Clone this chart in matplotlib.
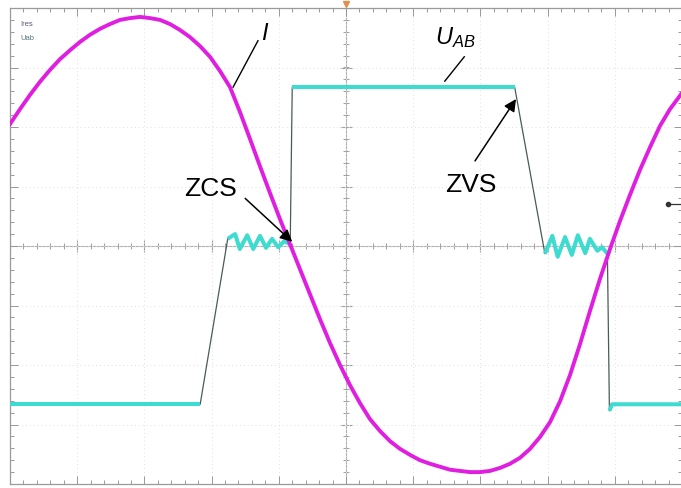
import matplotlib
matplotlib.use("Agg")
import matplotlib.pyplot as plt
import numpy as np

plt.rcParams['font.family'] = ['Liberation Sans', 'DejaVu Sans']
plt.rcParams['mathtext.fontset'] = 'custom'
plt.rcParams['mathtext.it'] = 'Liberation Sans:italic'
plt.rcParams['mathtext.rm'] = 'Liberation Sans'

# Current I (divisions: time 0..10, amplitude -4..4)
i_t = [0.000, 0.149, 0.298, 0.446, 0.595, 0.744, 0.893, 1.042, 1.190, 1.339,
       1.488, 1.637, 1.786, 1.935, 2.083, 2.232, 2.381, 2.530, 2.679, 2.827,
       2.976, 3.125, 3.274, 3.423, 3.571, 3.720, 3.869, 4.018, 4.167, 4.315,
       4.464, 4.613, 4.762, 4.911, 5.060, 5.208, 5.357, 5.506, 5.655, 5.804,
       5.952, 6.101, 6.250, 6.399, 6.548, 6.696, 6.845, 6.994, 7.143, 7.292,
       7.440, 7.589, 7.738, 7.887, 8.036, 8.185, 8.333, 8.482, 8.631, 8.780,
       8.929, 9.077, 9.226, 9.375, 9.524, 9.673, 9.821, 9.985]
i_v = [2.05, 2.30, 2.54, 2.76, 2.96, 3.14, 3.29, 3.43, 3.55, 3.65,
       3.73, 3.80, 3.83, 3.85, 3.83, 3.80, 3.73, 3.63, 3.51, 3.36,
       3.18, 2.94, 2.67, 2.25, 1.80, 1.34, 0.89, 0.45, 0.03, -0.39,
       -0.81, -1.23, -1.63, -2.00, -2.34, -2.64, -2.91, -3.11, -3.28, -3.41,
       -3.51, -3.60, -3.66, -3.71, -3.76, -3.78, -3.80, -3.80, -3.78, -3.73,
       -3.66, -3.56, -3.41, -3.21, -2.96, -2.61, -2.17, -1.65, -1.09, -0.55,
       -0.05, 0.42, 0.86, 1.28, 1.66, 2.02, 2.30, 2.55]

# Voltage U_AB trace segments (flat/ringing parts, drawn in cyan)
u_low1_t = [0.00, 2.83]
u_low1_v = [-2.66, -2.66]
u_ring1_t = [3.24, 3.35, 3.42, 3.53, 3.62, 3.72, 3.81, 3.90, 3.99, 4.08, 4.17]
u_ring1_v = [0.12, 0.20, -0.05, 0.18, -0.05, 0.17, -0.03, 0.12, -0.02, 0.08, 0.03]
u_high_t = [4.20, 7.51]
u_high_v = [2.67, 2.67]
u_ring2_t = [7.96, 8.07, 8.15, 8.26, 8.36, 8.45, 8.56, 8.63, 8.74, 8.81, 8.89]
u_ring2_v = [-0.13, 0.17, -0.18, 0.15, -0.15, 0.18, -0.12, 0.12, -0.08, -0.02, -0.13]
u_low2_t = [8.92, 8.96, 10.0]
u_low2_v = [-2.77, -2.66, -2.66]

segments = [(u_low1_t, u_low1_v), (u_ring1_t, u_ring1_v), (u_high_t, u_high_v),
            (u_ring2_t, u_ring2_v), (u_low2_t, u_low2_v)]

W, H = 681, 488
fig = plt.figure(figsize=(W / 100, H / 100), dpi=100)
fig.patch.set_facecolor('white')
ax = fig.add_axes([10 / W, 4 / H, 672 / W, 476 / H])
ax.set_xlim(0, 10)
ax.set_ylim(-4, 4)

# grid
ax.set_xticks(np.arange(0, 11, 1))
ax.set_yticks(np.arange(-4, 5, 1))
ax.set_xticks(np.arange(0, 10.01, 0.2), minor=True)
ax.set_yticks(np.arange(-4, 4.01, 0.2), minor=True)
ax.tick_params(which='both', direction='in', top=True, right=True,
               labelbottom=False, labelleft=False, color='#999999', width=0.7)
ax.tick_params(which='major', length=6)
ax.tick_params(which='minor', length=3)
ax.grid(which='major', color='#e0e0e0', ls=(0, (1, 3)), lw=0.7)
for s in ax.spines.values():
    s.set_color('#9a9a9a')
    s.set_linewidth(0.9)

# center cross with ticks
ax.axhline(0, color='#b0b0b0', lw=0.8, zorder=1)
ax.axvline(5, color='#b0b0b0', lw=0.8, zorder=1)
mt = np.arange(0, 10.01, 0.2)
mv = np.arange(-4, 4.01, 0.2)
ax.plot(mt, np.zeros_like(mt), ls='none', marker='|', ms=5, mew=0.7, color='#a0a0a0', zorder=1)
ax.plot(np.full_like(mv, 5), mv, ls='none', marker='_', ms=5, mew=0.7, color='#a0a0a0', zorder=1)
ax.plot(np.arange(0, 11, 1), np.zeros(11), ls='none', marker='|', ms=9, mew=0.8, color='#a0a0a0', zorder=1)
ax.plot(np.full(9, 5), np.arange(-4, 5, 1), ls='none', marker='_', ms=9, mew=0.8, color='#a0a0a0', zorder=1)

# voltage trace: transitions (dark) + flat parts (cyan)
full_t, full_v = [], []
for st, sv in segments:
    full_t += st
    full_v += sv
ax.plot(full_t, full_v, color='#4a5a5a', lw=0.9, zorder=3)
for st, sv in segments:
    ax.plot(st, sv, color='#3ddbd0', lw=2.9, solid_capstyle='butt', zorder=4)

# current trace
ax.plot(i_t, i_v, color='#e01ee0', lw=2.8, solid_joinstyle='round', zorder=5)

# labels
ax.text(0.15, 3.72, 'Ires', fontsize=5.5, color='#555577', ha='left', va='center')
ax.text(0.15, 3.48, 'Uab', fontsize=5.5, color='#557777', ha='left', va='center')

ax.text(3.80, 3.56, r'$I$', fontsize=17, ha='center', va='center')
ax.plot([3.69, 3.32], [3.45, 2.67], color='black', lw=1.0, zorder=6)

ax.text(6.62, 3.50, r'$U_{AB}$', fontsize=17, ha='center', va='center')
ax.plot([6.76, 6.47], [3.18, 2.77], color='black', lw=1.0, zorder=6)

ax.text(2.99, 0.96, 'ZCS', fontsize=19, ha='center', va='center')
ax.annotate('', xy=(4.20, 0.07), xytext=(3.50, 0.80),
            arrowprops=dict(arrowstyle='-|>', color='black', lw=1.1,
                            mutation_scale=18, shrinkA=0, shrinkB=0), zorder=7)

ax.text(6.85, 1.02, 'ZVS', fontsize=19, ha='center', va='center')
ax.annotate('', xy=(7.53, 2.47), xytext=(6.92, 1.43),
            arrowprops=dict(arrowstyle='-|>', color='black', lw=1.1,
                            mutation_scale=18, shrinkA=0, shrinkB=0), zorder=7)

# right-side reference marker
ax.plot([9.79, 10.0], [0.71, 0.71], color='#333333', lw=0.9, clip_on=False)
ax.plot([9.79], [0.71], marker='o', ms=3, color='#333333', clip_on=False)

# trigger marker at top
ax.plot([5.0], [4.06], marker='v', ms=4, color='#e09050', clip_on=False)

fig.savefig('out.png', dpi=100, facecolor='white')
